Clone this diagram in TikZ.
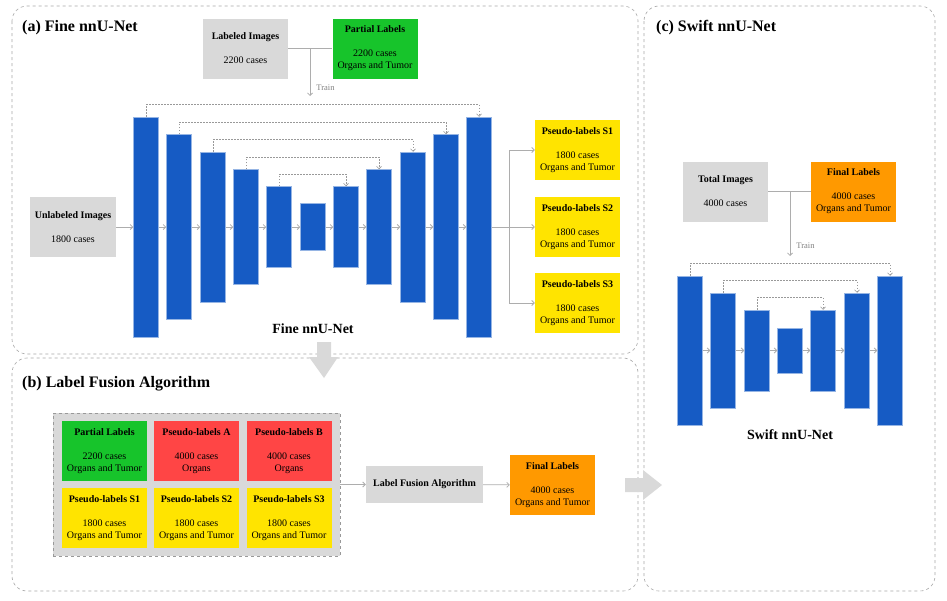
\documentclass[tikz,border=0pt]{standalone}
\usepackage{fontspec}
\setmainfont{Liberation Serif}
\usetikzlibrary{arrows.meta}
\definecolor{boxgray}{HTML}{D9D9D9}
\definecolor{linegray}{HTML}{ADADAD}
\definecolor{unetblue}{HTML}{165BC4}
\definecolor{labgreen}{HTML}{17C42B}
\definecolor{labred}{HTML}{FF4545}
\definecolor{labyellow}{HTML}{FFE400}
\definecolor{laborange}{HTML}{FF9900}

\begin{document}
\begin{tikzpicture}[x=1pt, y=-1pt,
    box/.style={rectangle, minimum width=85, minimum height=60, inner sep=0, align=center, font=\fontsize{10}{12}\selectfont},
    bar/.style={rectangle, fill=unetblue, draw=unetblue!45!white, line width=0.5, minimum width=25, inner sep=0},
    panel/.style={draw=gray!70, dashed, rounded corners=15, line width=0.6},
    title/.style={font=\fontsize{16}{18}\selectfont\bfseries, anchor=base west, inner sep=0},
    netname/.style={font=\fontsize{14}{16}\selectfont\bfseries, anchor=base, inner sep=0},
    flow/.style={draw=linegray, line width=0.8, -{Straight Barb[length=2.5pt, width=5pt]}},
    link/.style={draw=linegray, line width=1.6},
    skip/.style={draw=gray!80, dash pattern=on 1.5pt off 1.5pt, line width=0.6, -{Straight Barb[length=2.5pt, width=5pt]}},
    trainlbl/.style={font=\fontsize{8.5}{10}\selectfont, text=gray, anchor=west, inner sep=6}]
    \useasboundingbox (0,0) rectangle (947,600);

    \draw[panel] (12,6) rectangle (638,354);
    \draw[panel] (12,358) rectangle (638,591);
    \draw[panel] (644,6) rectangle (935,591);
    \node[title] (ta) at (22,31) {(a) Fine nnU-Net};
    \node[title] (tb) at (22,387) {(b) Label Fusion Algorithm};
    \node[title] (tc) at (656,31) {(c) Swift nnU-Net};

    % (a) Fine nnU-Net
    \node[box, fill=boxgray] (lab) at (245.5,48.5) {\textbf{Labeled Images}\\[12pt]2200 cases};
    \node[box, fill=labgreen] (part) at (375,48.5) {\textbf{Partial Labels}\\[12pt]2200 cases\\Organs and Tumor};
    \draw[link] (lab) -- (part);
    \coordinate (ta1) at (310,49);
    \coordinate (ta2) at (310,96);
    \draw[flow] (ta1) -- node[pos=0.83, trainlbl] {Train} (ta2);

    \node[box, fill=boxgray, minimum width=86] (ul) at (73,227) {\textbf{Unlabeled Images}\\[12pt]1800 cases};
    \node[bar, minimum height=220] (f1) at (146,227) {};
    \node[bar, minimum height=185] (f2) at (179,227) {};
    \node[bar, minimum height=150] (f3) at (213,227) {};
    \node[bar, minimum height=115] (f4) at (246,227) {};
    \node[bar, minimum height=81] (f5) at (279,227) {};
    \node[bar, minimum height=47] (f6) at (313,227) {};
    \node[bar, minimum height=81] (f7) at (346,227) {};
    \node[bar, minimum height=115] (f8) at (379,227) {};
    \node[bar, minimum height=150] (f9) at (413,227) {};
    \node[bar, minimum height=185] (f10) at (446,227) {};
    \node[bar, minimum height=220] (f11) at (479,227) {};
    \draw[flow] (ul) -- (f1);
    \draw[flow] (f1) -- (f2);
    \draw[flow] (f2) -- (f3);
    \draw[flow] (f3) -- (f4);
    \draw[flow] (f4) -- (f5);
    \draw[flow] (f5) -- (f6);
    \draw[flow] (f6) -- (f7);
    \draw[flow] (f7) -- (f8);
    \draw[flow] (f8) -- (f9);
    \draw[flow] (f9) -- (f10);
    \draw[flow] (f10) -- (f11);
    \draw[skip] (f1.north) -- ++(0,-12) -| (f11.north);
    \draw[skip] (f2.north) -- ++(0,-12) -| (f10.north);
    \draw[skip] (f3.north) -- ++(0,-12) -| (f9.north);
    \draw[skip] (f4.north) -- ++(0,-12) -| (f8.north);
    \draw[skip] (f5.north) -- ++(0,-12) -| (f7.north);
    \node[netname] (fn) at (313,333) {Fine nnU-Net};

    \node[box, fill=labyellow] (s1) at (577.5,150) {\textbf{Pseudo-labels S1}\\[12pt]1800 cases\\Organs and Tumor};
    \node[box, fill=labyellow] (s2) at (577.5,227) {\textbf{Pseudo-labels S2}\\[12pt]1800 cases\\Organs and Tumor};
    \node[box, fill=labyellow] (s3) at (577.5,303) {\textbf{Pseudo-labels S3}\\[12pt]1800 cases\\Organs and Tumor};
    \coordinate (sp) at (509,227);
    \draw[draw=linegray, line width=0.8] (f11) -- (sp);
    \draw[flow] (sp) |- (s1);
    \draw[flow] (sp) -- (s2);
    \draw[flow] (sp) |- (s3);

    % (b) Label Fusion Algorithm
    \node[draw=gray!80, dashed, fill=boxgray, minimum width=287, minimum height=143, inner sep=0] (pool) at (196.5,484.5) {};
    \node[box, fill=labgreen] (pl) at (104.5,451) {\textbf{Partial Labels}\\[12pt]2200 cases\\Organs and Tumor};
    \node[box, fill=labred] (pa) at (196.5,451) {\textbf{Pseudo-labels A}\\[12pt]4000 cases\\Organs};
    \node[box, fill=labred] (pb) at (289,451) {\textbf{Pseudo-labels B}\\[12pt]4000 cases\\Organs};
    \node[box, fill=labyellow] (ps1) at (104.5,518) {\textbf{Pseudo-labels S1}\\[12pt]1800 cases\\Organs and Tumor};
    \node[box, fill=labyellow] (ps2) at (196.5,518) {\textbf{Pseudo-labels S2}\\[12pt]1800 cases\\Organs and Tumor};
    \node[box, fill=labyellow] (ps3) at (289,518) {\textbf{Pseudo-labels S3}\\[12pt]1800 cases\\Organs and Tumor};
    \node[box, fill=boxgray, minimum width=117, minimum height=37] (lfa) at (424.5,484.5) {\textbf{Label Fusion Algorithm}};
    \node[box, fill=laborange] (fin) at (552.5,485) {\textbf{Final Labels}\\[12pt]4000 cases\\Organs and Tumor};
    \draw[flow] (pool) -- (lfa);
    \draw[flow] (lfa) -- (fin);

    % (c) Swift nnU-Net
    \node[box, fill=boxgray] (tot) at (725.5,191.5) {\textbf{Total Images}\\[12pt]4000 cases};
    \node[box, fill=laborange] (finc) at (853.5,191.5) {\textbf{Final Labels}\\[12pt]4000 cases\\Organs and Tumor};
    \draw[link] (tot) -- (finc);
    \coordinate (tc1) at (790,192);
    \coordinate (tc2) at (790,256);
    \draw[flow] (tc1) -- node[pos=0.84, trainlbl] {Train} (tc2);

    \node[bar, minimum height=149] (w1) at (690,350.5) {};
    \node[bar, minimum height=115] (w2) at (723,350.5) {};
    \node[bar, minimum height=81] (w3) at (757,350.5) {};
    \node[bar, minimum height=45] (w4) at (790,350.5) {};
    \node[bar, minimum height=81] (w5) at (823,350.5) {};
    \node[bar, minimum height=115] (w6) at (857,350.5) {};
    \node[bar, minimum height=149] (w7) at (890,350.5) {};
    \draw[flow] (w1) -- (w2);
    \draw[flow] (w2) -- (w3);
    \draw[flow] (w3) -- (w4);
    \draw[flow] (w4) -- (w5);
    \draw[flow] (w5) -- (w6);
    \draw[flow] (w6) -- (w7);
    \draw[skip] (w1.north) -- ++(0,-12) -| (w7.north);
    \draw[skip] (w2.north) -- ++(0,-12) -| (w6.north);
    \draw[skip] (w3.north) -- ++(0,-12) -| (w5.north);
    \node[netname] (sn) at (790,439) {Swift nnU-Net};

    % big arrows between panels
    \fill[boxgray] (317,342) -- (331,342) -- (331,357) -- (338,357) -- (324,378) -- (309,357) -- (317,357) -- cycle;
    \fill[boxgray] (625,478) -- (643,478) -- (643,470) -- (662,485) -- (643,500) -- (643,492) -- (625,492) -- cycle;
\end{tikzpicture}
\end{document}
